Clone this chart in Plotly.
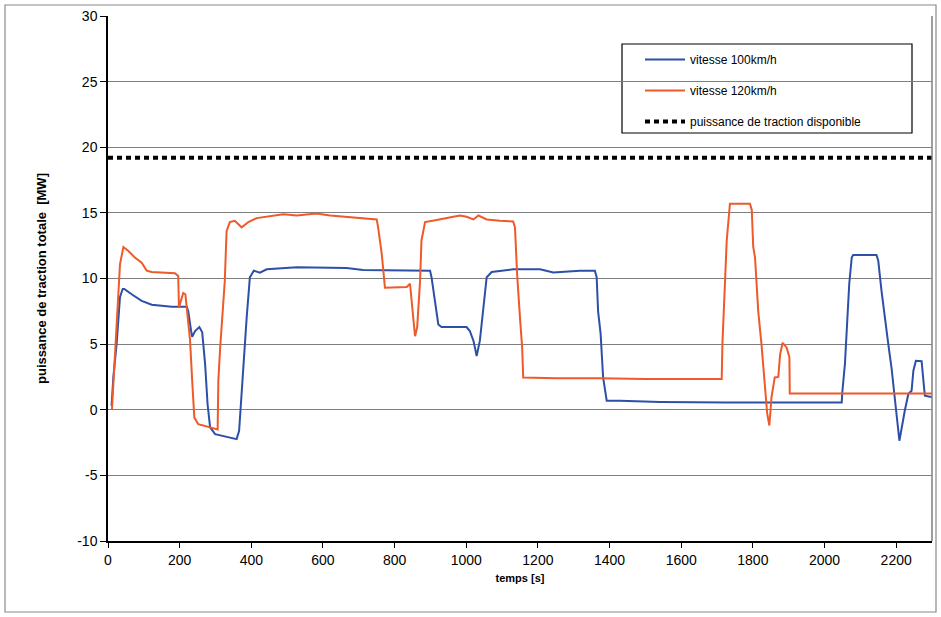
import plotly.graph_objects as go

# ---- data ----
t_120 = [11, 29, 33.5, 43, 57, 75, 94, 108, 122, 187, 196, 198, 210, 216, 220, 229, 235, 241, 252, 289, 306,
         308, 313, 326, 331, 340, 354, 373, 392, 415, 461, 489, 527, 582, 620, 675, 712, 750, 754, 764, 773,
         834, 843, 848, 857, 863, 871, 875, 885, 917, 982, 1001, 1020, 1034, 1057, 1094, 1131, 1136, 1142,
         1150, 1156, 1159, 1250, 1373, 1500, 1652, 1713, 1715, 1722, 1727, 1736, 1792, 1797, 1801, 1806,
         1815, 1824, 1834, 1840, 1846, 1852, 1861, 1871, 1876, 1883, 1894, 1902, 1903, 2300]
p_120 = [0, 9.1, 11.1, 12.4, 12.1, 11.6, 11.2, 10.6, 10.5, 10.4, 10.2, 7.8, 8.9, 8.8, 7.8, 5.3, 2.2, -0.6, -1.1,
         -1.4, -1.5, 2.2, 4.7, 9.8, 13.6, 14.3, 14.4, 13.9, 14.3, 14.6, 14.8, 14.9, 14.8, 14.96, 14.8, 14.65,
         14.6, 14.5, 13.9, 11.9, 9.3, 9.35, 9.6, 8.3, 5.6, 6.3, 9.8, 12.9, 14.3, 14.45, 14.8, 14.7, 14.5, 14.8,
         14.5, 14.4, 14.35, 13.9, 10.3, 7.0, 4.75, 2.46, 2.4, 2.4, 2.35, 2.35, 2.35, 5.0, 9.1, 12.9, 15.7,
         15.7, 15.2, 12.4, 11.6, 7.5, 5.0, 1.96, -0.3, -1.2, 0.94, 2.46, 2.5, 4.2, 5.1, 4.75, 4.0, 1.24, 1.24]

t_100 = [10, 15, 24, 29, 33.5, 41, 45.5, 66, 94, 122, 178, 220, 224, 232, 235, 243, 255, 263, 271, 278, 285,
         299, 331, 359, 366, 373, 380, 387, 396, 407, 424, 443, 527, 620, 666, 712, 806, 899, 903, 913, 922,
         931, 1001, 1010, 1020, 1024, 1029, 1038, 1047, 1057, 1071, 1131, 1206, 1243, 1317, 1359, 1364, 1368,
         1375, 1382, 1392, 1429, 1541, 1727, 2048, 2050, 2057, 2062, 2069, 2076, 2080, 2145, 2150, 2159, 2168,
         2178, 2187, 2197, 2203, 2209, 2215, 2224, 2234, 2243, 2248, 2255, 2271, 2276, 2280, 2294, 2300]
p_100 = [0.3, 2.5, 5.0, 7.0, 8.6, 9.2, 9.2, 8.8, 8.3, 8.0, 7.85, 7.85, 7.5, 6.0, 5.55, 6.0, 6.3, 5.9, 3.5, 0.4,
         -1.35, -1.86, -2.06, -2.24, -1.6, 1.45, 4.0, 7.0, 10.1, 10.6, 10.45, 10.7, 10.85, 10.85, 10.8, 10.65,
         10.6, 10.6, 10.1, 8.3, 6.5, 6.3, 6.3, 6.0, 5.26, 4.75, 4.1, 5.26, 7.8, 10.1, 10.5, 10.7, 10.7, 10.46,
         10.6, 10.6, 10.1, 7.5, 5.8, 2.46, 0.69, 0.69, 0.6, 0.56, 0.56, 1.45, 3.5, 6.0, 9.6, 11.6, 11.8, 11.8,
         11.35, 9.07, 7.0, 5.0, 3.2, 0.94, -0.84, -2.36, -1.35, -0.08, 1.2, 1.45, 2.97, 3.73, 3.7, 2.46, 1.07,
         1.0, 1.0]

t_dispo = [0, 2300]
p_dispo = [19.2, 19.2]

x_ticks = list(range(0, 2201, 200))
y_ticks = list(range(-10, 31, 5))
y_ticktext = [str(v) for v in y_ticks]

names = ["vitesse 100km/h", "vitesse 120km/h", "puissance de traction disponible"]

BLUE = "#2C4FA8"
ORANGE = "#EE5A28"
FONT = "Liberation Sans"

fig = go.Figure()
fig.add_trace(go.Scatter(x=t_100, y=p_100, mode="lines", name=names[0], legendgroup="a",
                         line=dict(color=BLUE, width=2)))
fig.add_trace(go.Scatter(x=t_120, y=p_120, mode="lines", name=names[1], legendgroup="b",
                         line=dict(color=ORANGE, width=2)))
fig.add_trace(go.Scatter(x=t_dispo, y=p_dispo, mode="lines", name=names[2], legendgroup="c",
                         line=dict(color="black", width=4, dash="5px,4px")))

W, H = 941, 617
L, R, T, B = 108, 9, 16, 76
pw, ph = W - L - R, H - T - B


def px_x(v):
    return (v - L) / pw


def px_y(v):
    return (H - B - v) / ph


fig.update_layout(
    width=W, height=H,
    margin=dict(l=L, r=R, t=T, b=B, autoexpand=False),
    paper_bgcolor="white", plot_bgcolor="white",
    font=dict(family=FONT, color="black", size=14),
    showlegend=True,
    legend=dict(x=px_x(640), y=px_y(45), xanchor="left", yanchor="top",
                bgcolor="rgba(0,0,0,0)", borderwidth=0,
                font=dict(family=FONT, size=12, color="black"),
                traceorder="grouped", tracegroupgap=12, itemwidth=40),
    xaxis=dict(range=[0, 2300], tickvals=x_ticks, ticks="outside", ticklen=5, tickcolor="black",
               showline=True, linecolor="black", linewidth=1.5, showgrid=False, zeroline=False,
               tickfont=dict(size=14, family=FONT),
               title=dict(text="<b>temps [s]</b>", font=dict(size=11, family=FONT), standoff=8)),
    yaxis=dict(range=[-10, 30], tickvals=y_ticks, ticktext=y_ticktext, ticks="outside", ticklen=6,
               tickcolor="black",
               showline=True, linecolor="black", linewidth=1.5, showgrid=True, gridcolor="#7f7f7f",
               gridwidth=1, zeroline=False, tickfont=dict(size=14, family=FONT),
               title=dict(text="<b>puissance de traction totale  [MW]</b>",
                          font=dict(size=13, family=FONT), standoff=28)),
    shapes=[
        # legend box
        dict(type="rect", xref="paper", yref="paper", layer="between",
             x0=px_x(622), x1=px_x(912), y0=px_y(133), y1=px_y(44),
             line=dict(color="black", width=1.2), fillcolor="white"),
        # right plot border
        dict(type="line", xref="paper", yref="paper", x0=1, x1=1, y0=0, y1=1,
             line=dict(color="#7f7f7f", width=1.5)),
        # outer frame
        dict(type="rect", xref="paper", yref="paper", layer="below",
             x0=px_x(5), x1=px_x(936), y0=px_y(612), y1=px_y(5),
             line=dict(color="#8a8a8a", width=1.2)),
    ],
)

fig.write_html("out.html", config={"displayModeBar": False},
               post_script="document.body.style.margin='0';")
